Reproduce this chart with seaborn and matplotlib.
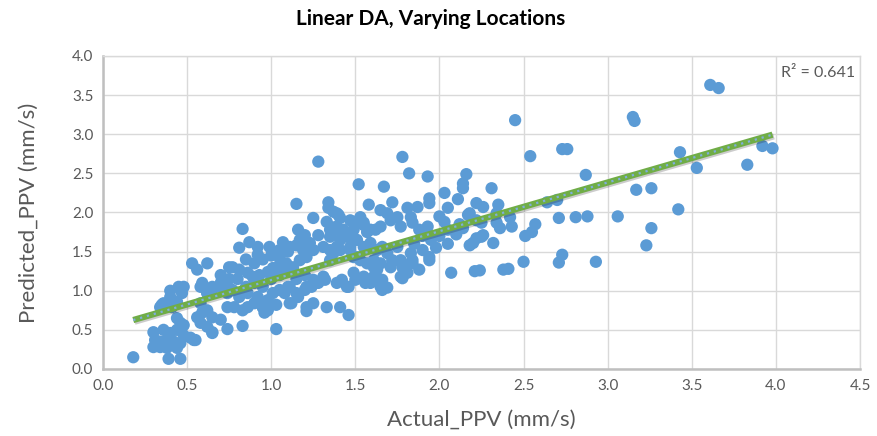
import numpy as np
import matplotlib
matplotlib.use('Agg')
import matplotlib.pyplot as plt
import matplotlib.patheffects as pe
import seaborn as sns

# values
actual_ppv = [
    0.18, 0.39, 0.46, 0.30, 0.36, 0.40, 0.44, 0.48, 0.52, 0.55, 0.31, 0.34, 0.38, 0.42, 0.46,
    0.30, 0.34, 0.38, 0.44, 0.44, 0.46, 0.48, 0.40, 0.36, 0.41, 0.45, 0.47, 0.44, 0.34, 0.40,
    0.35, 0.58, 0.62, 0.65, 0.70, 0.74, 0.58, 0.62, 0.65, 0.70, 0.74, 0.58, 0.62, 0.65, 0.56,
    0.59, 0.74, 0.83, 1.03, 0.54, 0.65, 0.53, 0.62, 0.56, 0.48,
    1.28, 1.52, 1.58, 1.15, 1.34, 1.34, 1.37, 1.40, 1.41, 1.25, 1.33, 1.36, 1.39, 1.43, 1.47,
    1.50, 1.53, 1.55, 1.57, 1.62, 0.83, 0.87, 0.92, 0.81, 0.92, 0.99, 1.07, 1.05, 1.11, 1.16,
    1.20, 1.17, 1.15, 1.19, 1.23, 1.28, 1.25, 1.31, 1.35, 1.41, 1.47, 1.49, 1.53, 1.57, 1.61,
    1.63, 0.77, 0.81, 0.86, 0.89, 0.93, 0.98, 1.01, 1.05, 1.09, 1.13, 1.17, 1.21, 0.59, 0.65,
    0.70, 0.62, 0.74, 0.77, 0.81, 0.86, 0.92, 0.98, 1.01, 1.05, 1.11, 1.15, 1.21, 1.25, 1.31,
    1.39, 1.45, 1.49, 1.55, 1.61, 0.95, 1.03, 1.11, 1.21, 1.25, 1.33, 1.41,
    1.21, 1.46, 1.12, 1.16, 1.20, 1.24, 1.28, 1.32, 1.08, 1.10, 1.42, 1.46, 1.50, 1.56, 0.78,
    0.83, 0.86, 0.90, 0.95, 0.98, 0.96,
    2.07, 2.21, 2.38, 1.63, 1.66, 1.69, 1.77, 1.78, 1.88, 1.94, 1.84, 1.78, 1.72, 1.59,
    1.78, 1.82, 1.93, 2.16, 2.14, 2.14, 1.67, 2.03, 2.11, 1.94, 1.94, 1.72, 1.81, 1.87, 1.39,
    2.22, 2.26, 2.35, 2.05, 2.17, 2.22, 2.25, 2.03, 2.05, 2.14, 1.83, 1.84, 1.88, 1.93, 1.75,
    1.77, 1.65, 1.69, 1.71, 1.55, 1.59, 1.47, 1.49, 1.65, 2.22, 2.26, 2.20, 1.94, 1.75, 1.77,
    1.78, 1.81, 1.83, 1.84, 1.66, 1.69, 1.72, 1.71, 1.61, 1.65, 1.55, 1.61, 1.65, 1.66, 1.35,
    1.37, 1.39, 1.41, 1.35, 1.35, 1.39, 1.45, 1.51, 1.55, 1.59, 1.47, 1.51, 2.18, 2.34, 2.18,
    2.25, 2.32,
    2.45, 3.15, 3.16, 2.54, 2.73, 2.76, 2.87, 2.31, 3.17, 3.26, 3.42, 3.43, 2.64, 2.70, 2.42,
    2.43, 2.34, 2.36, 2.71, 2.81, 2.88, 3.06, 3.26, 3.23, 2.57, 2.55, 2.51, 2.50, 2.41, 2.73,
    2.71, 2.93, 2.24, 3.61, 3.66, 3.53, 3.83, 3.92, 3.98,
    1.95, 2.00, 2.05, 2.10, 1.98, 2.12, 2.00, 1.90, 1.85, 1.90,
    0.95, 1.00, 1.05, 1.10, 0.90, 1.00, 0.90, 0.85, 0.80, 0.75, 0.70, 0.95, 1.05, 1.10, 1.15,
    1.20, 0.85, 0.75,
]
predicted_ppv = [
    0.15, 0.13, 0.13, 0.47, 0.50, 0.46, 0.50, 0.43, 0.40, 0.37, 0.37, 0.35, 0.37, 0.35, 0.33,
    0.28, 0.28, 0.27, 0.27, 0.65, 0.59, 0.56, 0.92, 0.84, 0.79, 1.05, 0.97, 0.86, 0.79, 1.00,
    0.82, 1.05, 0.97, 1.01, 1.05, 0.97, 0.84, 0.75, 0.66, 0.63, 0.79, 0.59, 0.54, 0.46, 0.66,
    0.72, 0.51, 0.55, 0.51, 0.37, 0.47, 1.35, 1.35, 1.27, 1.05,
    2.65, 2.36, 2.10, 2.11, 2.13, 2.06, 2.01, 1.97, 1.93, 1.93, 1.88, 1.81, 1.78, 1.78, 1.74,
    1.88, 1.94, 1.84, 1.75, 1.78, 1.79, 1.62, 1.56, 1.55, 1.46, 1.56, 1.62, 1.52, 1.56, 1.78,
    1.71, 1.65, 1.58, 1.52, 1.61, 1.71, 1.52, 1.56, 1.52, 1.52, 1.56, 1.43, 1.39, 1.35, 1.30,
    1.52, 1.30, 1.27, 1.23, 1.18, 1.20, 1.24, 1.29, 1.33, 1.35, 1.30, 1.39, 1.43, 1.10, 1.05,
    1.10, 0.97, 1.01, 1.01, 0.92, 0.97, 0.92, 0.88, 0.97, 1.01, 1.05, 0.97, 1.05, 1.14, 1.18,
    1.10, 1.05, 1.23, 1.14, 1.18, 0.79, 0.82, 0.84, 0.79, 0.84, 0.79, 0.79,
    0.74, 0.69, 0.84, 0.92, 1.01, 1.05, 1.10, 1.14, 0.97, 1.05, 1.14, 1.05, 1.14, 1.10, 0.79,
    0.75, 0.79, 0.84, 0.79, 0.75, 0.72,
    1.23, 1.25, 1.27, 1.27, 1.14, 1.04, 1.18, 1.16, 1.27, 1.39, 1.35, 1.35, 1.37, 1.10,
    2.71, 2.50, 2.46, 2.49, 2.37, 2.31, 2.33, 2.25, 2.17, 2.18, 2.12, 2.13, 2.06, 2.07, 1.99,
    2.12, 2.07, 2.10, 2.06, 1.97, 1.90, 1.87, 1.88, 1.78, 1.80, 1.94, 1.87, 1.78, 1.82, 1.94,
    1.82, 2.03, 1.99, 1.90, 1.87, 1.78, 1.90, 1.78, 1.82, 1.67, 1.71, 1.61, 1.43, 1.56, 1.39,
    1.30, 1.23, 1.48, 1.39, 1.56, 1.48, 1.39, 1.30, 1.39, 1.35, 1.18, 1.14, 1.05, 1.01, 1.39,
    1.48, 1.56, 1.65, 1.69, 1.78, 1.82, 1.69, 1.65, 1.56, 1.61, 1.52, 1.43, 1.99, 1.99, 1.58,
    1.69, 1.61,
    3.18, 3.22, 3.17, 2.72, 2.81, 2.81, 2.48, 2.31, 2.29, 2.31, 2.04, 2.77, 2.13, 2.16, 1.94,
    1.82, 1.87, 1.80, 1.93, 1.94, 1.95, 1.95, 1.80, 1.58, 1.85, 1.75, 1.70, 1.37, 1.28, 1.46,
    1.36, 1.37, 1.26, 3.63, 3.59, 2.57, 2.61, 2.85, 2.82,
    1.65, 1.70, 1.60, 1.72, 1.55, 1.85, 1.95, 1.70, 1.60, 1.52,
    1.40, 1.45, 1.42, 1.50, 1.35, 1.15, 1.10, 1.05, 1.15, 1.15, 1.20, 1.05, 1.20, 1.25, 1.15,
    1.20, 1.40, 1.30,
]
x_ticks = [0.0, 0.5, 1.0, 1.5, 2.0, 2.5, 3.0, 3.5, 4.0, 4.5]
y_ticks = [0.0, 0.5, 1.0, 1.5, 2.0, 2.5, 3.0, 3.5, 4.0]
r2_label = 'R² = 0.641'

sns.set_theme(style='whitegrid')
plt.rcParams['font.family'] = ['Lato', 'DejaVu Sans']

gray = '#595959'
fig = plt.figure(figsize=(8.77, 4.36), dpi=100)
ax = fig.add_axes([0.1174, 0.1537, 0.8632, 0.7179])

sns.scatterplot(x=actual_ppv, y=predicted_ppv, color='#5B9BD5', s=78,
                edgecolor='none', linewidth=0, ax=ax, zorder=2)

# linear trendline (green, soft shadow) + dotted overlay
sns.regplot(x=actual_ppv, y=predicted_ppv, scatter=False, ci=None, ax=ax,
            line_kws=dict(color='#70AD47', lw=4.5, solid_capstyle='butt', zorder=3,
                          path_effects=[pe.SimpleLineShadow(offset=(1, -1.2), alpha=0.22),
                                        pe.Normal()]))
trend = ax.lines[-1]
ax.plot(trend.get_xdata(), trend.get_ydata(), color='#7FAEDD', lw=1.6,
        linestyle=(0, (1, 2.2)), zorder=4)

ax.set_xlim(0, 4.5)
ax.set_ylim(0, 4.0)
ax.set_xticks(x_ticks)
ax.set_yticks(y_ticks)
ax.set_xticklabels([f'{t:.1f}' for t in x_ticks])
ax.set_yticklabels([f'{t:.1f}' for t in y_ticks])
ax.tick_params(axis='both', colors=gray, labelsize=11, length=0, pad=7)

ax.grid(True, color='#D9D9D9', lw=1.0)
ax.set_facecolor('white')
for side in ['top', 'right']:
    ax.spines[side].set_color('#D9D9D9')
    ax.spines[side].set_linewidth(1.0)
for side in ['left', 'bottom']:
    ax.spines[side].set_color('#BFBFBF')
    ax.spines[side].set_linewidth(1.8)

ax.set_xlabel('Actual_PPV (mm/s)', fontsize=16, color=gray, labelpad=12)
ax.set_ylabel('Predicted_PPV (mm/s)', fontsize=16, color=gray, labelpad=24)

ax.text(4.03, 3.78, r2_label, fontsize=11.5, color=gray, ha='left', va='center')

fig.text(431 / 877, 1 - 19 / 436, 'Linear DA, Varying Locations', fontsize=15,
         fontweight='bold', color='black', ha='center', va='center')

plt.savefig('out.png', dpi=100)
